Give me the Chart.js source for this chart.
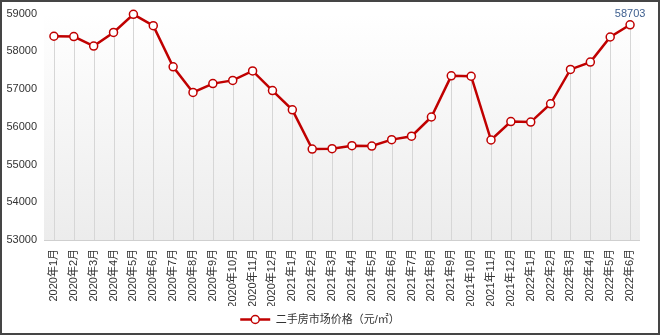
<!DOCTYPE html>
<html lang="zh">
<head>
<meta charset="UTF-8">
<title>二手房市场价格</title>
<script src="https://cdn.jsdelivr.net/npm/chart.js@4.4.0/dist/chart.umd.min.js"></script>
<style>
  body { margin: 0; background: #fff; }
  #wrap { position: relative; width: 660px; height: 335px; }
  #frame { position: absolute; left: 0; top: 0; width: 660px; height: 335px; box-sizing: border-box; border: 2px solid #454545; pointer-events: none; }
</style>
</head>
<body>
<div id="wrap">
  <canvas id="chart" width="660" height="335"></canvas>
  <div id="frame"></div>
</div>
<script>
const months = ['2020年1月','2020年2月','2020年3月','2020年4月','2020年5月','2020年6月','2020年7月','2020年8月','2020年9月','2020年10月','2020年11月','2020年12月',
  '2021年1月','2021年2月','2021年3月','2021年4月','2021年5月','2021年6月','2021年7月','2021年8月','2021年9月','2021年10月','2021年11月','2021年12月',
  '2022年1月','2022年2月','2022年3月','2022年4月','2022年5月','2022年6月'];
const prices = [58400, 58390, 58140, 58500, 58980, 58680, 57590, 56910, 57145, 57230, 57480, 56960,
  56450, 55410, 55420, 55500, 55490, 55660, 55750, 56260, 57350, 57340, 55650, 56140,
  56125, 56610, 57520, 57715, 58380, 58703];
const yTicks = [53000, 54000, 55000, 56000, 57000, 58000, 59000];
const seriesName = '二手房市场价格（元/㎡）';

const FONT = '"Liberation Sans", "Noto Sans CJK SC", sans-serif';

// gradient plot background + drop lines from each point
const plotBg = {
  id: 'plotBg',
  beforeDatasetsDraw(chart) {
    const { ctx, chartArea: a } = chart;
    ctx.save();
    const g = ctx.createLinearGradient(0, a.top, 0, a.bottom);
    g.addColorStop(0, '#ffffff');
    g.addColorStop(1, '#ececec');
    ctx.fillStyle = g;
    ctx.fillRect(a.left, a.top, a.right - a.left, a.bottom - a.top);
    ctx.strokeStyle = '#d6d6d6';
    ctx.lineWidth = 1;
    chart.getDatasetMeta(0).data.forEach(p => {
      const x = Math.round(p.x) + 0.5;
      ctx.beginPath();
      ctx.moveTo(x, p.y);
      ctx.lineTo(x, a.bottom);
      ctx.stroke();
    });
    ctx.strokeStyle = '#cfcfcf';
    ctx.beginPath();
    ctx.moveTo(a.left, Math.round(a.bottom) + 0.5);
    ctx.lineTo(a.right, Math.round(a.bottom) + 0.5);
    ctx.stroke();
    ctx.restore();
  }
};

// value label on the last point
const lastLabel = {
  id: 'lastLabel',
  afterDatasetsDraw(chart) {
    const { ctx } = chart;
    const pts = chart.getDatasetMeta(0).data;
    const p = pts[pts.length - 1];
    ctx.save();
    ctx.font = '11px ' + FONT;
    ctx.fillStyle = '#3e5f8f';
    ctx.textAlign = 'center';
    ctx.textBaseline = 'bottom';
    ctx.fillText(String(prices[prices.length - 1]), p.x, p.y - 5);
    ctx.restore();
  }
};

new Chart(document.getElementById('chart'), {
  type: 'line',
  data: {
    labels: months,
    datasets: [{
      label: seriesName,
      data: prices,
      borderColor: '#c00000',
      borderWidth: 2.5,
      pointRadius: 4,
      pointBorderWidth: 1.5,
      pointBackgroundColor: '#ffffff',
      pointBorderColor: '#c00000',
      tension: 0,
      clip: false
    }]
  },
  options: {
    responsive: false,
    animation: false,
    layout: { padding: { top: 6, right: 20, bottom: 0, left: 0 } },
    scales: {
      x: {
        offset: true,
        grid: { display: false, offset: false, drawTicks: false },
        border: { display: false },
        ticks: {
          autoSkip: false, minRotation: 90, maxRotation: 90, padding: 9,
          color: '#333', font: { size: 11, family: FONT }
        },
        afterFit(s) { s.height = 66; }
      },
      y: {
        min: 53000, max: 59000,
        afterBuildTicks(s) { s.ticks = yTicks.map(v => ({ value: v })); },
        grid: { display: false, drawTicks: false },
        border: { display: false },
        ticks: {
          padding: 7, color: '#333', font: { size: 11, family: FONT },
          callback: v => String(v)
        },
        afterFit(s) { s.width = 44; }
      }
    },
    plugins: {
      legend: {
        position: 'bottom',
        labels: {
          usePointStyle: true,
          pointStyle: 'line',
          pointStyleWidth: 30,
          padding: 8,
          color: '#333',
          font: { size: 11, family: FONT },
          generateLabels(chart) {
            return [{
              text: seriesName,
              fillStyle: '#c00000',
              strokeStyle: '#c00000',
              lineWidth: 2.5,
              pointStyle: 'line',
              fontColor: '#333',
              datasetIndex: 0
            }];
          }
        }
      },
      tooltip: { enabled: false }
    }
  },
  plugins: [plotBg, lastLabel, {
    id: 'legendMarker',
    afterDraw(chart) {
      // circle marker in the middle of the legend line
      const lg = chart.legend;
      if (!lg || !lg.legendHitBoxes.length) return;
      const b = lg.legendHitBoxes[0];
      const ctx = chart.ctx;
      const cx = b.left + 15, cy = b.top + b.height / 2;
      ctx.save();
      ctx.beginPath();
      ctx.arc(cx, cy, 4, 0, Math.PI * 2);
      ctx.fillStyle = '#fff';
      ctx.fill();
      ctx.lineWidth = 1.5;
      ctx.strokeStyle = '#c00000';
      ctx.stroke();
      ctx.restore();
    }
  }]
});
</script>
</body>
</html>
